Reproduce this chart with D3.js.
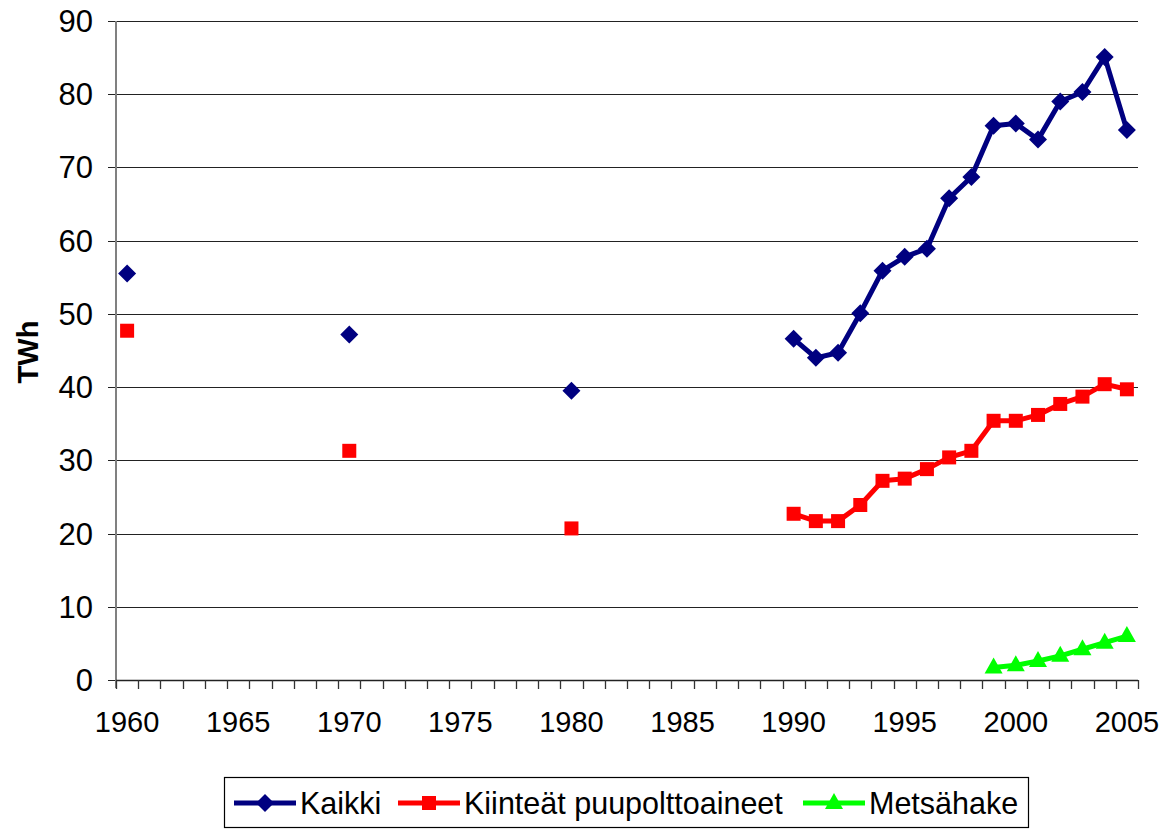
<!DOCTYPE html>
<html>
<head>
<meta charset="utf-8">
<script src="https://cdn.jsdelivr.net/npm/d3@7"></script>
<style>
  body { margin: 0; background: #fff; }
  svg { display: block; font-family: Arial, "Liberation Sans", sans-serif; }
</style>
</head>
<body>
<svg id="chart" width="1163" height="829"></svg>
<script>
// data
var kaikkiYears = [1960, 1970, 1980, 1990, 1991, 1992, 1993, 1994, 1995, 1996, 1997, 1998, 1999, 2000, 2001, 2002, 2003, 2004, 2005];
var kaikkiValues = [55.5, 47.2, 39.5, 46.6, 44.0, 44.7, 50.1, 55.9, 57.8, 58.9, 65.8, 68.7, 75.7, 76.0, 73.8, 79.0, 80.3, 85.1, 75.1];

var puuYears = [1960, 1970, 1980, 1990, 1991, 1992, 1993, 1994, 1995, 1996, 1997, 1998, 1999, 2000, 2001, 2002, 2003, 2004, 2005];
var puuValues = [47.7, 31.3, 20.7, 22.7, 21.7, 21.7, 23.9, 27.2, 27.5, 28.8, 30.4, 31.3, 35.4, 35.4, 36.2, 37.7, 38.7, 40.4, 39.7];

var hakeYears = [1999, 2000, 2001, 2002, 2003, 2004, 2005];
var hakeValues = [1.7, 2.0, 2.6, 3.3, 4.2, 5.1, 6.0];

var yTicks = [0, 10, 20, 30, 40, 50, 60, 70, 80, 90];
var xLabels = [1960, 1965, 1970, 1975, 1980, 1985, 1990, 1995, 2000, 2005];

var seriesNames = ['Kaikki', 'Kiinteät puupolttoaineet', 'Metsähake'];
var seriesColors = ['#000080', '#ff0000', '#00ff00'];

var svg = d3.select('#chart');

var plotLeft = 116, plotRight = 1138, plotTop = 21, plotBottom = 680;

var categories = d3.range(1960, 2006);

var x = d3.scaleBand()
    .domain(categories)
    .range([plotLeft, plotRight])
    .padding(0);

var y = d3.scaleLinear()
    .domain([0, 90])
    .range([plotBottom, plotTop]);

function cx(year) { return x(year) + x.bandwidth() / 2; }

// gridlines
svg.append('g')
    .selectAll('line')
    .data(yTicks)
    .enter()
    .append('line')
    .attr('x1', plotLeft - 8)
    .attr('x2', plotRight)
    .attr('y1', function (d) { return Math.round(y(d)) + 0.5; })
    .attr('y2', function (d) { return Math.round(y(d)) + 0.5; })
    .attr('stroke', '#222')
    .attr('stroke-width', 1.2);

// y labels
svg.append('g')
    .selectAll('text')
    .data(yTicks)
    .enter()
    .append('text')
    .attr('x', 93)
    .attr('y', function (d) { return y(d) + 11; })
    .attr('text-anchor', 'end')
    .attr('font-size', 31)
    .attr('fill', '#000')
    .text(function (d) { return d; });

// y axis line
svg.append('line')
    .attr('x1', plotLeft).attr('x2', plotLeft)
    .attr('y1', plotTop).attr('y2', plotBottom + 8)
    .attr('stroke', '#808080')
    .attr('stroke-width', 2);

// x axis with ticks between categories
svg.append('line')
    .attr('x1', plotLeft).attr('x2', plotRight)
    .attr('y1', plotBottom + 0.5).attr('y2', plotBottom + 0.5)
    .attr('stroke', '#222')
    .attr('stroke-width', 1.3);

var tickPos = categories.map(function (c) { return x(c); }).concat([plotRight]);
svg.append('g')
    .selectAll('line')
    .data(tickPos)
    .enter()
    .append('line')
    .attr('x1', function (d) { return Math.round(d) + 0.5; })
    .attr('x2', function (d) { return Math.round(d) + 0.5; })
    .attr('y1', plotBottom)
    .attr('y2', plotBottom + 9)
    .attr('stroke', '#333')
    .attr('stroke-width', 1.3);

svg.append('g')
    .selectAll('text')
    .data(xLabels)
    .enter()
    .append('text')
    .attr('x', function (d) { return cx(d); })
    .attr('y', 732)
    .attr('text-anchor', 'middle')
    .attr('font-size', 29)
    .attr('fill', '#000')
    .text(function (d) { return d; });

// axis title
svg.append('text')
    .attr('transform', 'translate(38,352) rotate(-90)')
    .attr('text-anchor', 'middle')
    .attr('font-size', 29)
    .attr('font-weight', 'bold')
    .text('TWh');

// series
function toRows(years, values) {
    return years.map(function (yr, i) { return { year: yr, value: values[i] }; });
}

var series = [
    toRows(kaikkiYears, kaikkiValues),
    toRows(puuYears, puuValues),
    toRows(hakeYears, hakeValues)
];

function marker(g, i) {
    if (i === 0) {
        g.append('path').attr('d', 'M0,-9L9,0L0,9L-9,0Z');
    } else if (i === 1) {
        g.append('rect').attr('x', -7).attr('y', -7).attr('width', 14).attr('height', 14);
    } else {
        g.append('path').attr('d', 'M0,-10L9,6L-9,6Z');
    }
}

var line = d3.line()
    .defined(function (d) { return d.value != null; })
    .x(function (d) { return cx(d.year); })
    .y(function (d) { return y(d.value); });

series.forEach(function (rows, i) {
    // gaps in the years break the line
    var full = categories.map(function (c) {
        var r = rows.find(function (d) { return d.year === c; });
        return { year: c, value: r ? r.value : null };
    });
    svg.append('path')
        .datum(full)
        .attr('d', line)
        .attr('fill', 'none')
        .attr('stroke', seriesColors[i])
        .attr('stroke-width', 5)
        .attr('stroke-linejoin', 'round');

    svg.append('g')
        .selectAll('g')
        .data(rows)
        .enter()
        .append('g')
        .attr('transform', function (d) { return 'translate(' + cx(d.year) + ',' + y(d.value) + ')'; })
        .attr('fill', seriesColors[i])
        .each(function () { marker(d3.select(this), i); });
});

// legend
var legend = svg.append('g');
legend.append('rect')
    .attr('x', 224.5).attr('y', 777.5)
    .attr('width', 804).attr('height', 50)
    .attr('fill', '#fff')
    .attr('stroke', '#000')
    .attr('stroke-width', 1.2);

var legendX = [234, 398, 803];
seriesNames.forEach(function (name, i) {
    var g = legend.append('g');
    g.append('line')
        .attr('x1', legendX[i]).attr('x2', legendX[i] + 62)
        .attr('y1', 803).attr('y2', 803)
        .attr('stroke', seriesColors[i])
        .attr('stroke-width', 5);
    var m = g.append('g')
        .attr('transform', 'translate(' + (legendX[i] + 31) + ',803)')
        .attr('fill', seriesColors[i]);
    marker(m, i);
    g.append('text')
        .attr('x', legendX[i] + 66)
        .attr('y', 814)
        .attr('font-size', 30.5)
        .attr('fill', '#000')
        .text(name);
});
</script>
</body>
</html>
